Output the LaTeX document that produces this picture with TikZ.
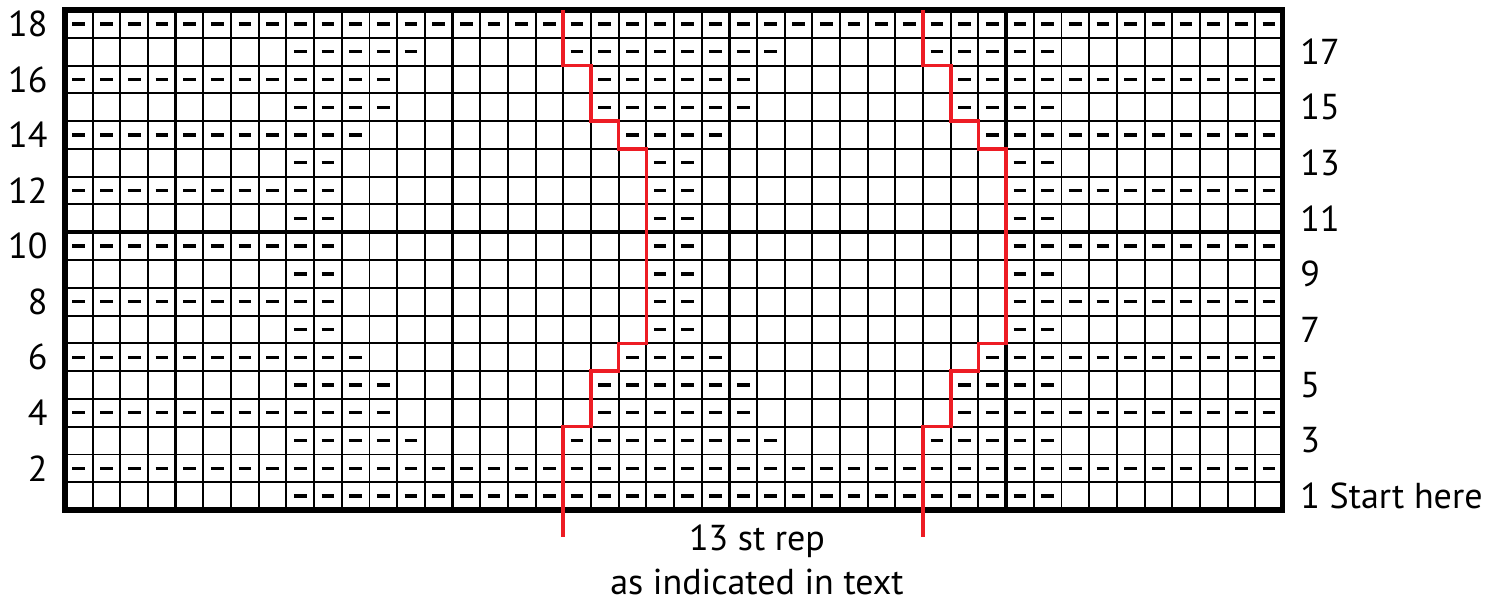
\documentclass[tikz,border=0pt]{standalone}
\usepackage{fontspec}
\setmainfont{PT Sans}
\definecolor{repred}{RGB}{237,28,36}

\begin{document}
\begin{tikzpicture}[x=0.5536cm, y=0.5556cm,
  thinline/.style={line width=1.1pt},
  divline/.style={line width=2pt},
  border/.style={line width=2.9pt},
  purl/.style={line width=1.9pt},
  repline/.style={repred, line width=2pt},
  rowlab/.style={font=\fontsize{20.5}{24}\selectfont, inner sep=0pt}
]
\fill[white] (-2.348,-3.42) rectangle (51.77,18.36);

\foreach \x in {1,...,43} \draw[thinline] (\x,0) -- (\x,18);
\foreach \y in {1,...,17} \draw[thinline] (0,\y) -- (44,\y);
\foreach \x in {4,14,24,34} \draw[divline] (\x,0) -- (\x,18);
\draw[divline] (0,10) -- (44,10);
\draw[border] (0,0) rectangle (44,18);

\foreach \r/\segs in {18/{0/43}, 17/{8/12,18/25,31/35}, 16/{0/11,19/24,32/43},
    15/{8/11,19/24,32/35}, 14/{0/10,20/23,33/43}, 13/{8/9,21/22,34/35},
    12/{0/9,21/22,34/43}, 11/{8/9,21/22,34/35}, 10/{0/9,21/22,34/43},
    9/{8/9,21/22,34/35}, 8/{0/9,21/22,34/43}, 7/{8/9,21/22,34/35},
    6/{0/10,20/23,33/43}, 5/{8/11,19/24,32/35}, 4/{0/11,19/24,32/43},
    3/{8/12,18/25,31/35}, 2/{0/43}, 1/{8/35}}
  \foreach \a/\b in \segs
    \foreach \c in {\a,...,\b}
      \draw[purl] (\c+0.27,\r-0.5) -- (\c+0.73,\r-0.5);

\foreach \s in {0,13}
  \draw[repline, shift={(\s,0)}] (18,-0.97) -- (18,3) -- (19,3) -- (19,5) -- (20,5)
    -- (20,6) -- (21,6) -- (21,13) -- (20,13) -- (20,14) -- (19,14) -- (19,16)
    -- (18,16) -- (18,18);

\foreach \r in {2,4,...,18}
  \node[rowlab, anchor=east] (even\r) at (-0.62,\r-0.5) {\r};
\foreach \r in {3,5,...,17}
  \node[rowlab, anchor=west] (odd\r) at (44.62,\r-0.5) {\r};
\node[rowlab, anchor=west] (start) at (44.62,0.5) {1 Start here};

\node[rowlab, align=center, font=\fontsize{20.5}{25}\selectfont] (rep) at (25,-1.8)
  {13 st rep\\as indicated in text};
\end{tikzpicture}
\end{document}
